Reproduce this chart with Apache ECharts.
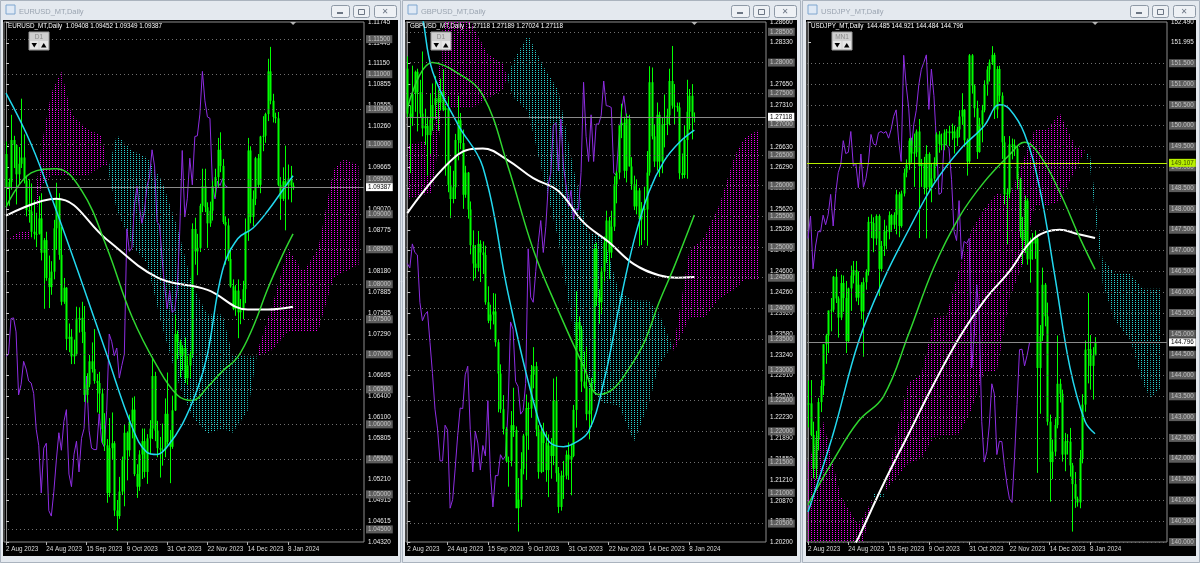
<!DOCTYPE html>
<html><head><meta charset="utf-8">
<script src="https://cdn.jsdelivr.net/npm/echarts@6/dist/echarts.min.js"></script>
<style>html,body{margin:0;padding:0;background:#dde3ea;}#c{width:1200px;height:563px;}</style>
</head><body><div id="c"></div><script>
// ---------------- DATA ----------------
const dateTickIdx = [0,16,32,48,64,80,96,112];
const dateTickLabels = ['2 Aug 2023','24 Aug 2023','15 Sep 2023','9 Oct 2023','31 Oct 2023','22 Nov 2023','14 Dec 2023','8 Jan 2024'];

// EURUSD daily bars [open, high, low, close]
const eurOHLC = [
[1.0986,1.1004,1.0912,1.0938],[1.0938,1.0951,1.0912,1.0946],[1.0946,1.1042,1.0935,1.1006],[1.1006,1.1012,1.0966,1.0999],[1.0999,1.1000,1.0914,1.0957],
[1.0957,1.0996,1.0943,1.0972],[1.0972,1.1065,1.0966,1.0981],[1.0981,1.1014,1.0944,1.0948],[1.0948,1.0955,1.0897,1.0906],[1.0906,1.0950,1.0888,1.0904],
[1.0904,1.0944,1.0867,1.0875],[1.0875,1.0920,1.0864,1.0872],[1.0872,1.0902,1.0853,1.0872],[1.0872,1.0926,1.0871,1.0894],[1.0894,1.0930,1.0834,1.0845],
[1.0845,1.0866,1.0765,1.0863],[1.0863,1.0875,1.0805,1.0809],[1.0809,1.0841,1.0766,1.0796],[1.0796,1.0833,1.0785,1.0818],[1.0818,1.0892,1.0807,1.0880],
[1.0880,1.0945,1.0849,1.0923],[1.0923,1.0930,1.0835,1.0842],[1.0842,1.0882,1.0770,1.0775],[1.0775,1.0809,1.0772,1.0795],[1.0795,1.0796,1.0706,1.0722],
[1.0722,1.0744,1.0703,1.0725],[1.0725,1.0736,1.0686,1.0697],[1.0697,1.0721,1.0686,1.0700],[1.0700,1.0768,1.0698,1.0751],[1.0751,1.0767,1.0731,1.0752],
[1.0752,1.0775,1.0716,1.0732],[1.0732,1.0769,1.0632,1.0642],[1.0642,1.0673,1.0631,1.0657],[1.0657,1.0699,1.0653,1.0690],[1.0690,1.0717,1.0674,1.0679],
[1.0679,1.0736,1.0658,1.0662],[1.0662,1.0672,1.0617,1.0659],[1.0659,1.0675,1.0615,1.0644],[1.0644,1.0651,1.0573,1.0593],[1.0593,1.0616,1.0562,1.0570],
[1.0570,1.0579,1.0488,1.0502],[1.0502,1.0609,1.0496,1.0566],[1.0566,1.0617,1.0550,1.0573],[1.0573,1.0576,1.0469,1.0477],[1.0477,1.0492,1.0448,1.0469],
[1.0469,1.0525,1.0465,1.0504],[1.0504,1.0554,1.0499,1.0549],[1.0549,1.0600,1.0483,1.0588],[1.0588,1.0590,1.0520,1.0563],[1.0563,1.0614,1.0554,1.0604],
[1.0604,1.0638,1.0580,1.0621],[1.0621,1.0640,1.0526,1.0529],[1.0529,1.0543,1.0495,1.0511],[1.0511,1.0563,1.0505,1.0557],[1.0557,1.0594,1.0522,1.0576],
[1.0576,1.0594,1.0524,1.0532],[1.0532,1.0586,1.0515,1.0580],[1.0580,1.0606,1.0557,1.0594],[1.0594,1.0695,1.0579,1.0669],[1.0669,1.0675,1.0576,1.0591],
[1.0591,1.0605,1.0553,1.0566],[1.0566,1.0582,1.0524,1.0564],[1.0564,1.0601,1.0541,1.0564],[1.0564,1.0637,1.0553,1.0615],[1.0615,1.0674,1.0571,1.0575],
[1.0575,1.0592,1.0516,1.0568],[1.0568,1.0641,1.0565,1.0620],[1.0620,1.0756,1.0619,1.0729],[1.0729,1.0734,1.0693,1.0718],[1.0718,1.0721,1.0667,1.0698],
[1.0698,1.0713,1.0677,1.0709],[1.0709,1.0724,1.0659,1.0666],[1.0666,1.0698,1.0656,1.0684],[1.0684,1.0704,1.0666,1.0700],[1.0700,1.0887,1.0695,1.0879],
[1.0879,1.0895,1.0828,1.0847],[1.0847,1.0872,1.0813,1.0852],[1.0852,1.0915,1.0846,1.0912],[1.0912,1.0965,1.0903,1.0940],[1.0940,1.0965,1.0903,1.0910],
[1.0910,1.0917,1.0852,1.0887],[1.0887,1.0918,1.0882,1.0905],[1.0905,1.0948,1.0891,1.0940],[1.0940,1.0965,1.0925,1.0953],[1.0953,1.1009,1.0939,1.0992],
[1.0992,1.1017,1.0960,1.0969],[1.0969,1.0979,1.0886,1.0889],[1.0889,1.0897,1.0828,1.0884],[1.0884,1.0894,1.0833,1.0836],[1.0836,1.0852,1.0795,1.0797],
[1.0797,1.0807,1.0763,1.0765],[1.0765,1.0799,1.0755,1.0791],[1.0791,1.0807,1.0723,1.0760],[1.0760,1.0779,1.0743,1.0763],[1.0763,1.0805,1.0750,1.0793],
[1.0793,1.0894,1.0773,1.0875],[1.0875,1.1009,1.0862,1.0991],[1.0991,1.0997,1.0887,1.0896],[1.0896,1.0934,1.0883,1.0922],[1.0922,1.0982,1.0913,1.0980],
[1.0980,1.0986,1.0938,1.0942],[1.0942,1.1012,1.0930,1.1011],[1.1011,1.1040,1.0990,1.1012],[1.1012,1.1045,1.1002,1.1043],[1.1043,1.1122,1.1033,1.1104],
[1.1104,1.1139,1.1057,1.1062],[1.1062,1.1072,1.1031,1.1039],[1.1039,1.1045,1.1030,1.1037],[1.1037,1.1046,1.0940,1.0942],[1.0942,1.0953,1.0892,1.0922],
[1.0922,1.0967,1.0919,1.0947],[1.0947,1.0998,1.0877,1.0941],[1.0941,1.0971,1.0921,1.0951],[1.0951,1.0969,1.0917,1.0941],[1.09408,1.09452,1.09349,1.09387]
];
const eurMA20 = [[0,1.1073],[10,1.1000],[20,1.0905],[30,1.0804],[40,1.0700],[50,1.0597],[56,1.0560],[60,1.0557],[64,1.0568],[70,1.0600],[76,1.0650],[80,1.0700],[86,1.0820],[92,1.0865],[98,1.0880],[104,1.0905],[110,1.0935],[114,1.0955]];
const eurMA50 = [[0,1.0910],[10,1.0959],[20,1.0965],[30,1.0934],[40,1.0853],[50,1.0754],[60,1.0683],[68,1.0642],[74,1.0634],[80,1.0653],[86,1.0676],[92,1.0696],[98,1.0738],[104,1.0794],[110,1.0843],[114,1.0872]];
const eurMA100 = [[0,1.0898],[20,1.0922],[40,1.0864],[60,1.0810],[80,1.0792],[96,1.0764],[104,1.0764],[114,1.0768]];
// Ichimoku cloud [bar, spanA, spanB]
const eurKumo = [[0,1.0864,1.0865],[5,1.0874,1.0865],[10,1.0877,1.0865],[14,1.0997,1.0940],[18,1.1073,1.0955],[22,1.1104,1.0955],[26,1.1043,1.0955],[32,1.1022,1.0955],[38,1.1012,1.0969],[41,1.0955,1.0970],[44,1.0906,1.1013],[50,1.0856,1.0991],[56,1.0830,1.0981],[62,1.0740,1.0947],[68,1.0664,1.0882],[74,1.0611,1.0799],[80,1.0587,1.0757],[86,1.0594,1.0757],[90,1.0588,1.0699],[96,1.0619,1.0697],[100,1.0706,1.0697],[106,1.0773,1.0707],[112,1.0851,1.0733],[118,1.0818,1.0733],[124,1.0851,1.0733],[130,1.0963,1.0809],[134,1.0979,1.0817],[140,1.0970,1.0828]];
const eurTicks = [1.04320,1.04615,1.04915,1.05210,1.05510,1.05805,1.06100,1.06400,1.06695,1.06995,1.07290,1.07585,1.07885,1.08180,1.08480,1.08775,1.09070,1.09370,1.09665,1.09965,1.10260,1.10555,1.10855,1.11150,1.11445,1.11745];
const eurLevels = [1.045,1.050,1.055,1.060,1.065,1.070,1.075,1.080,1.085,1.090,1.095,1.100,1.105,1.110,1.115];
const eurLast = 1.09387;
const eurHeader = 'EURUSD_MT,Daily  1.09408 1.09452 1.09349 1.09387';

// GBPUSD
const gbpOHLC = [
[1.2790,1.2810,1.2710,1.2717],[1.2717,1.2730,1.2620,1.2710],[1.2710,1.2795,1.2697,1.2749],[1.2749,1.2787,1.2720,1.2785],[1.2785,1.2790,1.2688,1.2752],
[1.2752,1.2772,1.2710,1.2717],[1.2717,1.2818,1.2680,1.2693],[1.2693,1.2725,1.2666,1.2697],[1.2697,1.2712,1.2616,1.2682],[1.2682,1.2749,1.2651,1.2707],
[1.2707,1.2766,1.2689,1.2731],[1.2731,1.2778,1.2708,1.2742],[1.2742,1.2756,1.2689,1.2735],[1.2735,1.2774,1.2722,1.2753],[1.2753,1.2789,1.2721,1.2723],
[1.2723,1.2730,1.2616,1.2726],[1.2726,1.2745,1.2589,1.2601],[1.2601,1.2632,1.2547,1.2578],[1.2578,1.2624,1.2571,1.2597],[1.2597,1.2684,1.2578,1.2674],
[1.2674,1.2746,1.2641,1.2706],[1.2706,1.2718,1.2659,1.2669],[1.2669,1.2691,1.2562,1.2585],[1.2585,1.2632,1.2580,1.2621],[1.2621,1.2622,1.2546,1.2561],
[1.2561,1.2574,1.2488,1.2503],[1.2503,1.2527,1.2445,1.2473],[1.2473,1.2503,1.2449,1.2466],[1.2466,1.2526,1.2460,1.2505],[1.2505,1.2511,1.2443,1.2491],
[1.2491,1.2509,1.2456,1.2487],[1.2487,1.2502,1.2406,1.2410],[1.2410,1.2436,1.2376,1.2380],[1.2380,1.2406,1.2366,1.2390],[1.2390,1.2425,1.2374,1.2395],
[1.2395,1.2424,1.2338,1.2345],[1.2345,1.2350,1.2231,1.2294],[1.2294,1.2309,1.2230,1.2236],[1.2236,1.2259,1.2195,1.2204],[1.2204,1.2207,1.2150,1.2152],
[1.2152,1.2159,1.2110,1.2152],[1.2152,1.2233,1.2143,1.2210],[1.2210,1.2271,1.2191,1.2202],[1.2202,1.2208,1.2075,1.2075],[1.2075,1.2124,1.2037,1.2089],
[1.2089,1.2166,1.2077,1.2139],[1.2139,1.2196,1.2130,1.2193],[1.2193,1.2260,1.2121,1.2238],[1.2238,1.2247,1.2170,1.2237],[1.2237,1.2308,1.2222,1.2292],
[1.2292,1.2337,1.2270,1.2306],[1.2306,1.2313,1.2192,1.2203],[1.2203,1.2210,1.2123,1.2134],[1.2134,1.2210,1.2132,1.2200],[1.2200,1.2214,1.2134,1.2181],
[1.2181,1.2200,1.2118,1.2137],[1.2137,1.2195,1.2093,1.2177],[1.2177,1.2189,1.2123,1.2160],[1.2160,1.2286,1.2145,1.2250],[1.2250,1.2289,1.2118,1.2132],
[1.2132,1.2142,1.2067,1.2077],[1.2077,1.2136,1.2071,1.2128],[1.2128,1.2152,1.2090,1.2128],[1.2128,1.2169,1.2122,1.2162],[1.2162,1.2182,1.2121,1.2154],
[1.2154,1.2180,1.2096,1.2160],[1.2160,1.2243,1.2158,1.2235],[1.2235,1.2428,1.2206,1.2378],[1.2378,1.2387,1.2330,1.2366],[1.2366,1.2372,1.2264,1.2281],
[1.2281,1.2330,1.2270,1.2273],[1.2273,1.2337,1.2218,1.2228],[1.2228,1.2269,1.2187,1.2234],[1.2234,1.2287,1.2207,1.2278],[1.2278,1.2505,1.2265,1.2497],
[1.2497,1.2507,1.2404,1.2418],[1.2418,1.2431,1.2375,1.2410],[1.2410,1.2467,1.2391,1.2460],[1.2460,1.2517,1.2444,1.2507],[1.2507,1.2559,1.2474,1.2543],
[1.2543,1.2549,1.2448,1.2491],[1.2491,1.2559,1.2482,1.2533],[1.2533,1.2615,1.2526,1.2602],[1.2602,1.2624,1.2571,1.2621],[1.2621,1.2696,1.2610,1.2698],
[1.2698,1.2733,1.2677,1.2702],[1.2702,1.2712,1.2612,1.2624],[1.2624,1.2717,1.2605,1.2708],[1.2708,1.2715,1.2631,1.2631],[1.2631,1.2646,1.2593,1.2602],
[1.2602,1.2616,1.2560,1.2566],[1.2566,1.2610,1.2553,1.2592],[1.2592,1.2596,1.2501,1.2545],[1.2545,1.2573,1.2503,1.2562],[1.2562,1.2598,1.2511,1.2561],
[1.2561,1.2656,1.2502,1.2621],[1.2621,1.2794,1.2616,1.2768],[1.2768,1.2792,1.2675,1.2680],[1.2680,1.2700,1.2630,1.2639],[1.2639,1.2735,1.2624,1.2715],
[1.2715,1.2720,1.2614,1.2639],[1.2639,1.2710,1.2620,1.2700],[1.2700,1.2748,1.2662,1.2700],[1.2700,1.2725,1.2682,1.2714],[1.2714,1.2790,1.2698,1.2770],
[1.2770,1.2827,1.2725,1.2730],[1.2730,1.2765,1.2700,1.2729],[1.2729,1.2735,1.2720,1.2727],[1.2727,1.2735,1.2610,1.2620],[1.2620,1.2652,1.2611,1.2617],
[1.2617,1.2698,1.2612,1.2674],[1.2674,1.2772,1.2611,1.2720],[1.2720,1.2757,1.2691,1.2746],[1.2746,1.2765,1.2675,1.2712],[1.27118,1.27189,1.27024,1.27118]
];
const gbpMA20 = [[0,1.2925],[5,1.2890],[10,1.2786],[20,1.2700],[30,1.2630],[40,1.2425],[50,1.2250],[56,1.2185],[62,1.2175],[66,1.2180],[72,1.2200],[78,1.2280],[84,1.2400],[90,1.2510],[96,1.2590],[102,1.2640],[108,1.2670],[114,1.2690]];
const gbpMA50 = [[0,1.2725],[10,1.2800],[20,1.2783],[30,1.2747],[40,1.2631],[50,1.2496],[60,1.2396],[70,1.2306],[76,1.2260],[82,1.2270],[88,1.2302],[94,1.2344],[100,1.2410],[106,1.2468],[114,1.2552]];
const gbpMA100 = [[0,1.2555],[20,1.2650],[30,1.2660],[40,1.2641],[50,1.2612],[60,1.2591],[70,1.2540],[80,1.2508],[90,1.2472],[100,1.2454],[107,1.2450],[114,1.2451]];
const gbpKumo = [[0,1.2666,1.2578],[10,1.2674,1.2589],[14,1.2852,1.2726],[18,1.2930,1.2726],[22,1.2920,1.2726],[26,1.2860,1.2726],[32,1.2813,1.2742],[38,1.2798,1.2757],[42,1.2744,1.2802],[48,1.2720,1.2845],[54,1.2614,1.2794],[60,1.2512,1.2755],[66,1.2361,1.2627],[72,1.2270,1.2524],[78,1.2246,1.2516],[84,1.2242,1.2428],[90,1.2183,1.2413],[96,1.2246,1.2413],[100,1.2309,1.2392],[106,1.2343,1.2330],[112,1.2494,1.2385],[118,1.2516,1.2385],[124,1.2569,1.2416],[130,1.2648,1.2431],[134,1.2678,1.2447],[140,1.2691,1.2447]];
const gbpTicks = [1.20200,1.20535,1.20870,1.21210,1.21550,1.21890,1.22230,1.22570,1.22910,1.23240,1.23580,1.23920,1.24260,1.24600,1.24940,1.25280,1.25620,1.25960,1.26290,1.26630,1.26970,1.27310,1.27650,1.27990,1.28330,1.28660];
const gbpLevels = [1.205,1.210,1.215,1.220,1.225,1.230,1.235,1.240,1.245,1.250,1.255,1.260,1.265,1.270,1.275,1.280,1.285];
const gbpLast = 1.27118;
const gbpHeader = 'GBPUSD_MT,Daily  1.27118 1.27189 1.27024 1.27118';

// USDJPY
const jpyOHLC = [
[143.30,143.88,142.75,143.33],[143.33,143.89,142.54,142.57],[142.57,142.89,141.53,141.76],[141.76,142.67,141.52,142.46],[142.46,143.46,142.20,143.36],
[143.36,143.89,143.12,143.75],[143.75,144.75,143.53,144.75],[144.75,145.00,144.28,144.96],[144.96,145.56,144.54,145.56],[145.56,145.86,145.06,145.58],
[145.58,146.39,145.52,146.37],[146.37,146.56,145.74,145.85],[145.85,145.90,144.91,145.39],[145.39,146.42,145.33,146.22],[146.22,146.40,145.53,145.86],
[145.86,146.27,144.54,144.83],[144.83,146.11,144.78,146.09],[146.09,146.64,145.55,146.40],[146.40,146.75,146.21,146.53],[146.53,146.75,145.78,145.87],
[145.87,146.50,145.69,146.18],[146.18,146.24,145.35,145.54],[145.54,146.35,144.45,146.24],[146.24,146.55,146.06,146.49],[146.49,147.81,146.40,147.69],
[147.69,147.87,147.30,147.66],[147.66,147.80,146.96,147.29],[147.29,147.87,147.13,147.83],[147.83,147.87,145.91,146.56],[146.56,147.23,146.50,147.11],
[147.11,147.74,146.87,147.46],[147.46,147.60,147.03,147.45],[147.45,147.94,147.27,147.85],[147.85,147.88,147.45,147.62],[147.62,147.92,147.52,147.86],
[147.86,148.46,147.39,148.35],[148.35,148.41,147.32,147.59],[147.59,148.44,147.55,148.37],[148.37,148.97,148.30,148.87],[148.87,149.19,148.76,149.06],
[149.06,149.70,148.94,149.64],[149.64,149.71,149.11,149.33],[149.33,149.81,148.53,149.36],[149.36,149.91,149.25,149.86],[149.86,150.16,147.30,149.03],
[149.03,149.20,148.53,149.09],[149.09,149.25,148.35,148.51],[148.51,149.53,147.29,149.32],[149.32,149.36,148.41,148.52],[148.52,149.09,148.16,148.73],
[148.73,149.24,148.66,149.12],[149.12,149.84,149.03,149.79],[149.79,149.87,149.35,149.56],[149.56,149.81,149.41,149.53],[149.53,149.91,149.41,149.83],
[149.83,149.92,149.53,149.86],[149.86,150.00,149.51,149.82],[149.82,150.05,149.66,149.86],[149.86,150.00,149.33,149.70],[149.70,149.97,149.51,149.91],
[149.91,150.37,149.72,150.22],[150.22,150.78,150.02,150.38],[150.38,150.40,149.49,149.65],[149.65,149.69,148.80,149.14],[149.14,151.72,149.10,151.69],
[151.69,151.72,150.77,150.96],[150.96,150.99,150.20,150.42],[150.42,150.60,149.20,149.37],[149.37,150.19,149.35,150.03],[150.03,150.50,149.60,150.37],
[150.37,151.09,150.32,150.98],[150.98,151.43,150.72,151.35],[151.35,151.59,151.06,151.52],[151.52,151.91,151.46,151.70],[151.70,151.75,150.16,150.39],
[150.39,151.43,150.18,151.36],[151.36,151.44,150.57,150.72],[150.72,150.80,149.20,149.60],[149.60,149.75,148.11,148.35],[148.35,148.48,147.15,148.39],
[148.39,149.75,148.26,149.55],[149.55,149.69,149.19,149.54],[149.54,149.67,149.27,149.45],[149.45,149.51,148.47,148.71],[148.71,148.75,147.31,147.46],
[147.46,147.81,146.67,147.24],[147.24,148.32,146.94,148.20],[148.20,148.26,146.66,146.79],[146.79,147.31,146.23,147.22],[147.22,147.42,146.78,147.17],
[147.17,147.49,146.80,147.29],[147.29,147.35,141.66,144.18],[144.18,145.21,143.08,144.95],[144.95,146.59,144.83,146.18],[146.18,146.22,145.18,145.42],
[145.42,145.75,142.80,142.89],[142.89,143.06,140.97,141.92],[141.92,142.46,141.51,142.17],[142.17,142.97,142.06,142.81],[142.81,144.96,142.73,143.80],
[143.80,143.92,143.35,143.56],[143.56,143.66,141.93,142.10],[142.10,142.62,141.70,142.42],[142.42,142.59,142.10,142.41],[142.41,142.74,141.57,141.84],
[141.84,141.90,140.25,141.39],[141.39,141.68,140.82,141.04],[141.04,141.09,140.85,140.95],[140.95,142.21,140.81,142.00],[142.00,143.55,141.89,143.30],
[143.30,144.84,143.13,144.62],[144.62,145.98,143.81,144.63],[144.63,144.97,143.66,144.23],[144.23,144.68,143.42,144.48],[144.485,144.921,144.484,144.796]
];
const jpyMA20 = [[0,140.72],[10,142.6],[20,144.8],[30,146.3],[40,147.5],[50,148.6],[60,149.4],[70,150.0],[76,150.5],[80,150.4],[86,149.8],[92,148.5],[98,146.4],[104,144.2],[110,142.9],[114,142.6]];
const jpyMA50 = [[0,140.9],[10,141.96],[20,142.9],[30,143.5],[40,145.0],[50,146.6],[60,147.8],[70,148.65],[80,149.3],[86,149.6],[92,149.3],[100,148.4],[108,147.3],[114,146.55]];
const jpyMA100 = [[18,139.9],[20,140.1],[30,141.4],[40,142.6],[50,143.8],[60,144.9],[70,145.8],[80,146.5],[90,147.3],[100,147.5],[107,147.4],[114,147.3]];
const jpyKumo = [[0,141.9,138.0],[6,142.9,139.0],[13,141.1,139.3],[20,140.4,139.4],[26,141.06,141.16],[30,141.06,141.16],[35,142.62,141.55],[40,143.85,141.9],[45,144.02,142.0],[50,145.4,142.53],[55,145.43,142.56],[60,146.56,142.59],[65,147.5,143.2],[70,148.0,144.1],[75,148.37,144.1],[80,148.3,145.84],[85,149.1,146.64],[90,149.9,148.08],[95,149.9,148.08],[100,150.3,148.18],[106,149.53,148.91],[110,149.4,149.39],[112,149.0,149.29],[117,146.2,146.79],[122,145.3,146.44],[128,144.86,146.44],[133,143.8,146.08],[136,143.46,146.08],[140,143.7,146.08]];
const jpyTicks = [151.995,152.490];
const jpyLevels = [140.0,140.5,141.0,141.5,142.0,142.5,143.0,143.5,144.0,144.5,145.0,145.5,146.0,146.5,147.0,147.5,148.0,148.5,149.0,149.5,150.0,150.5,151.0,151.5];
const jpyLast = 144.796;
const jpyHLine = 149.107;
const jpyHeader = 'USDJPY_MT,Daily  144.485 144.921 144.484 144.796';

const eurRange = [1.04320, 1.11745];
const gbpRange = [1.20200, 1.28660];
const jpyRange = [140.000, 152.490];
const chikouShift = 26;

// ---------------- RENDER ----------------
const FONT = 'Liberation Sans';
function dotPattern(color){
  const cv = document.createElement('canvas'); cv.width = 3; cv.height = 2;
  const g = cv.getContext('2d'); g.fillStyle = color; g.fillRect(1,0,1,1);
  return {image: cv, repeat: 'repeat'};
}
const MAG = dotPattern('#ee00ee');
const CYA = dotPattern('#2ad0d0');

function candleRender(params, api){
  const i = api.value(0), o = api.value(1), h = api.value(2), l = api.value(3), c = api.value(4);
  const pO = api.coord([i,o]), pC = api.coord([i,c]), pH = api.coord([i,h]), pL = api.coord([i,l]);
  const x = Math.round(pO[0]) + 0.5;
  const top = Math.min(pO[1],pC[1]), bot = Math.max(pO[1],pC[1]);
  const col = '#00ff00';
  return {type:'group', children:[
    {type:'line', shape:{x1:x,y1:pH[1],x2:x,y2:pL[1]}, style:{stroke:col,lineWidth:1}},
    {type:'rect', shape:{x:x-1,y:top,width:2,height:Math.max(1,bot-top)}, style:{fill:col}}
  ]};
}
function kumoRender(rows){
  return function(params, api){
    const k = params.dataIndex;
    if (k >= rows.length-1) return null;
    const r0 = rows[k], r1 = rows[k+1];
    const d0 = r0[1]-r0[2], d1 = r1[1]-r1[2];
    const P = (i,v)=>api.coord([i,v]);
    const poly = (pts, up)=>({type:'polygon', shape:{points:pts}, style:{fill: up?MAG:CYA}});
    const kids = [];
    if (d0*d1 < 0){
      const t = d0/(d0-d1);
      const xi = r0[0]+t*(r1[0]-r0[0]);
      const vi = r0[1]+t*(r1[1]-r0[1]);
      kids.push(poly([P(r0[0],r0[1]),P(xi,vi),P(r0[0],r0[2])], d0>0));
      kids.push(poly([P(xi,vi),P(r1[0],r1[1]),P(r1[0],r1[2])], d1>0));
    } else {
      kids.push(poly([P(r0[0],r0[1]),P(r1[0],r1[1]),P(r1[0],r1[2]),P(r0[0],r0[2])], (d0+d1)>=0));
    }
    return {type:'group', children:kids};
  };
}

const panes = [
  {title:'EURUSD_MT,Daily', tf:'D1', header:eurHeader, ohlc:eurOHLC, ma20:eurMA20, ma50:eurMA50, ma100:eurMA100, kumo:eurKumo, ticks:eurTicks, levels:eurLevels, last:eurLast, range:eurRange, dec:5,
   win:[0,401], black:[3,398], gridLeft:4, xMin:-0.79},
  {title:'GBPUSD_MT,Daily', tf:'D1', header:gbpHeader, ohlc:gbpOHLC, ma20:gbpMA20, ma50:gbpMA50, ma100:gbpMA100, kumo:gbpKumo, ticks:gbpTicks, levels:gbpLevels, last:gbpLast, range:gbpRange, dec:5,
   win:[402,801], black:[405,797], gridLeft:406, xMin:-0.52},
  {title:'USDJPY_MT,Daily', tf:'MN1', header:jpyHeader, ohlc:jpyOHLC, ma20:jpyMA20, ma50:jpyMA50, ma100:jpyMA100, kumo:jpyKumo, ticks:jpyTicks, levels:jpyLevels, last:jpyLast, range:jpyRange, dec:3, hline:jpyHLine,
   win:[802,1200], black:[806,1196], gridLeft:807, xMin:-0.4}
];
const GRID_W = 360, GRID_TOP = 22, GRID_H = 520, PX_PER_BAR = 2.518;

const grid = [], xAxis = [], yAxis = [], series = [], graphic = [];
panes.forEach((p, g) => {
  const xMax = p.xMin + GRID_W/PX_PER_BAR;
  grid.push({left:p.gridLeft, top:GRID_TOP, width:GRID_W, height:GRID_H, show:true, borderColor:'#8c8c8c', borderWidth:1, backgroundColor:'transparent'});
  xAxis.push({type:'value', gridIndex:g, min:p.xMin, max:xMax, axisLine:{show:false}, splitLine:{show:false},
    axisTick:{show:true, customValues:dateTickIdx, length:3, lineStyle:{color:'#b0b0b0'}},
    axisLabel:{customValues:dateTickIdx, formatter:v=>dateTickLabels[dateTickIdx.indexOf(v)] || '', align:'left', margin:4, fontSize:6.3, color:'#dcdcdc', fontFamily:FONT}});
  yAxis.push({type:'value', gridIndex:g, position:'right', min:p.range[0], max:p.range[1], splitLine:{show:false},
    axisLine:{show:true, lineStyle:{color:'#8c8c8c'}},
    axisTick:{show:true, customValues:p.ticks, length:3, lineStyle:{color:'#c8c8c8'}},
    axisLabel:{customValues:p.ticks, formatter:v=>v.toFixed(p.dec), margin:4, fontSize:6.3, color:'#ececec', fontFamily:FONT}});

  series.push({type:'custom', xAxisIndex:g, yAxisIndex:g, data:p.kumo, encode:{x:0,y:[1,2]}, renderItem:kumoRender(p.kumo), clip:true, silent:true, z:1, animation:false});
  series.push({type:'line', xAxisIndex:g, yAxisIndex:g, data:p.ohlc.slice(chikouShift).map((r,i)=>[i, r[3]]), showSymbol:false, lineStyle:{color:'#8e2de2', width:1}, clip:true, silent:true, z:2, animation:false});
  series.push({type:'custom', xAxisIndex:g, yAxisIndex:g, data:p.ohlc.map((r,i)=>[i, r[0], r[1], r[2], r[3]]), encode:{x:0,y:[1,2,3,4]}, renderItem:candleRender, clip:true, silent:true, z:3, animation:false});
  const ml = [];
  p.levels.forEach(v => ml.push({yAxis:v, lineStyle:{color:'#707070', type:[1,3], width:1},
    label:{formatter:v.toFixed(p.dec), color:'#c4c4c4', backgroundColor:'#5c5c5c', padding:[1,2,1,2]}}));
  if (p.hline) ml.push({yAxis:p.hline, lineStyle:{color:'#b8f000', type:'solid', width:1.2},
    label:{formatter:p.hline.toFixed(p.dec), color:'#3a4a00', backgroundColor:'#b8f000', padding:[1,2,1,2]}});
  ml.push({yAxis:p.last, lineStyle:{color:'#8a8a8a', type:'solid', width:1},
    label:{formatter:p.last.toFixed(p.dec), color:'#000', backgroundColor:'#ffffff', padding:[1,2,1,2]}});
  series.push({type:'line', xAxisIndex:g, yAxisIndex:g, data:p.ma100, smooth:0.4, showSymbol:false, lineStyle:{color:'#ffffff', width:2}, clip:true, silent:true, z:4, animation:false,
    markLine:{silent:true, symbol:'none', animation:false, precision:5,
      label:{show:true, position:'end', distance:2, fontSize:6.3, fontFamily:FONT},
      data:ml}});
  series.push({type:'line', xAxisIndex:g, yAxisIndex:g, data:p.ma50, smooth:0.4, showSymbol:false, lineStyle:{color:'#2fd62f', width:1.5}, clip:true, silent:true, z:4, animation:false});
  series.push({type:'line', xAxisIndex:g, yAxisIndex:g, data:p.ma20, smooth:0.4, showSymbol:false, lineStyle:{color:'#22d8ee', width:1.5}, clip:true, silent:true, z:4, animation:false});

  const wx0 = p.win[0], wx1 = p.win[1];
  graphic.push({type:'rect', z:-100, shape:{x:wx0+0.5, y:0.5, width:wx1-wx0-1, height:562}, style:{fill:'#e4e9ef', stroke:'#aab3be', lineWidth:1}});
  graphic.push({type:'rect', z:-99, shape:{x:p.black[0], y:20, width:p.black[1]-p.black[0], height:536}, style:{fill:'#000000'}});
  graphic.push({type:'rect', z:-98, shape:{x:wx0+6, y:5, width:9, height:9}, style:{fill:'#dfe9f5', stroke:'#7ea6cf', lineWidth:1}});
  graphic.push({type:'text', z:50, x:wx0+19, y:12, style:{text:p.title, fill:'#9aa4b0', fontSize:7.5, fontFamily:FONT, verticalAlign:'middle'}});
  const bx = wx1 - 70;
  [[bx,18],[bx+22,16],[bx+43,22]].forEach(b=>{
    graphic.push({type:'rect', z:50, shape:{x:b[0]+0.5, y:5.5, width:b[1], height:12, r:2}, style:{fill:'#eef1f5', stroke:'#8e99a6', lineWidth:1}});
  });
  graphic.push({type:'rect', z:51, shape:{x:bx+6, y:12, width:6, height:2}, style:{fill:'#6c7684'}});
  graphic.push({type:'rect', z:51, shape:{x:bx+27.5, y:9.5, width:6, height:5}, style:{fill:'none', stroke:'#6c7684', lineWidth:1}});
  graphic.push({type:'text', z:51, x:bx+54, y:12, style:{text:'✕', fill:'#6c7684', fontSize:8, fontFamily:'DejaVu Sans', align:'center', verticalAlign:'middle'}});
  graphic.push({type:'text', z:50, x:p.black[0]+5, y:26, style:{text:p.header, fill:'#ffffff', fontSize:6.3, fontFamily:FONT, verticalAlign:'middle'}});
  const tx = p.gridLeft + 25;
  graphic.push({type:'rect', z:50, shape:{x:tx, y:32, width:20, height:18}, style:{fill:'#cfcfcf', stroke:'#9a9a9a', lineWidth:1}});
  graphic.push({type:'text', z:51, x:tx+10, y:37, style:{text:p.tf, fill:'#8a8a8a', fontSize:6.5, fontFamily:FONT, align:'center', verticalAlign:'middle'}});
  graphic.push({type:'rect', z:51, shape:{x:tx+1, y:41, width:8.5, height:8}, style:{fill:'#e6e6e6'}});
  graphic.push({type:'rect', z:51, shape:{x:tx+10.5, y:41, width:8.5, height:8}, style:{fill:'#e6e6e6'}});
  graphic.push({type:'polygon', z:52, shape:{points:[[tx+2.5,43],[tx+8,43],[tx+5.25,47.5]]}, style:{fill:'#000'}});
  graphic.push({type:'polygon', z:52, shape:{points:[[tx+12,47.5],[tx+17.5,47.5],[tx+14.75,43]]}, style:{fill:'#000'}});
  const sx = p.gridLeft + (114 - p.xMin) * PX_PER_BAR;
  graphic.push({type:'polygon', z:50, shape:{points:[[sx-3,22],[sx+3,22],[sx,25]]}, style:{fill:'#b4b4b4'}});
});

const chart = echarts.init(document.getElementById('c'), null, {renderer:'canvas'});
chart.setOption({
  backgroundColor:'#dde3ea',
  animation:false,
  grid, xAxis, yAxis, series, graphic
});
</script></body></html>
